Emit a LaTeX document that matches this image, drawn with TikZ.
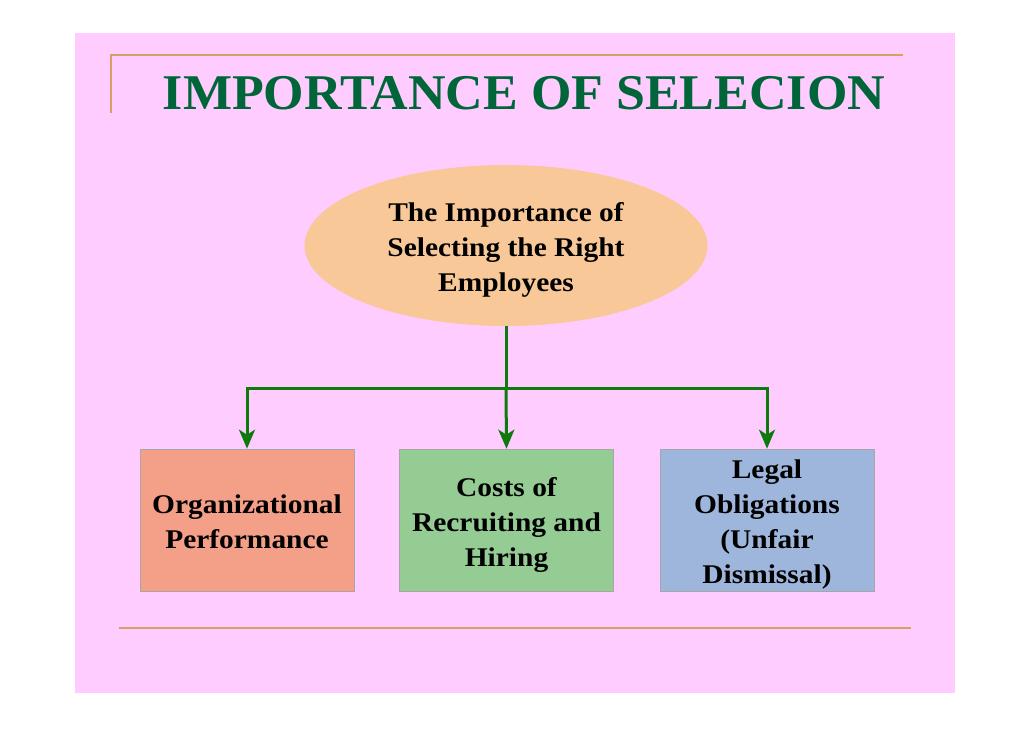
\documentclass[tikz,border=0pt]{standalone}
\usepackage{fontspec}
\setmainfont{Liberation Serif}
\newfontfamily\boxfont[FakeStretch=1.09]{Liberation Serif}
\newfontfamily\titlefont[FakeStretch=1.04]{Liberation Serif}
\usetikzlibrary{arrows.meta,shapes.geometric}
\newcommand\droptext[1]{\raisebox{-4pt}[\height][\depth]{\begin{tabular}{@{}c@{}}#1\end{tabular}}}
\definecolor{pinkbg}{HTML}{FFCCFF}
\definecolor{rule}{HTML}{D9A066}
\definecolor{titlegreen}{HTML}{00663A}
\definecolor{arrowgreen}{HTML}{0E7A0E}
\definecolor{peach}{HTML}{F8C898}
\definecolor{salmon}{HTML}{F4A088}
\definecolor{mint}{HTML}{94CC94}
\definecolor{steel}{HTML}{9EB6DC}
\tikzset{
  boxtext/.style={align=center, font=\boxfont\fontsize{27}{35}\selectfont\bfseries},
  boxnode/.style={boxtext, draw=black!35, line width=0.6pt, minimum width=214pt, minimum height=142pt, inner sep=0pt},
  conn/.style={draw=arrowgreen, line width=3pt},
  connarrow/.style={conn, -{Stealth[length=19pt,width=16pt,inset=5pt]}},
}
\begin{document}
\begin{tikzpicture}[x=1pt,y=-1pt]
\useasboundingbox (0,0) rectangle (1030,728);
\fill[white] (0,0) rectangle (1030,728);
\fill[pinkbg] (75,33) rectangle (955,693);
\draw[rule, line width=2pt] (111,113) -- (111,55) -- (903,55);
\draw[rule, line width=2.5pt] (119,628) -- (911,628);
\node[font=\titlefont\fontsize{50}{56}\selectfont\bfseries, text=titlegreen] (title) at (524,93) {IMPORTANCE OF SELECION};
\node[ellipse, boxtext, fill=peach, minimum width=403pt, minimum height=161pt, inner sep=0pt] (top) at (506,245.5) {\droptext{The Importance of\\Selecting the Right\\Employees}};
\node[boxnode, fill=salmon] (b1) at (247,520) {\droptext{Organizational\\Performance}};
\node[boxnode, fill=mint] (b2) at (506.5,520) {\droptext{Costs of\\Recruiting and\\Hiring}};
\node[boxnode, fill=steel] (b3) at (767,520) {\droptext{Legal\\Obligations\\(Unfair\\Dismissal)}};
\coordinate (j) at (506,388);
\draw[conn] (top.south) -- (j);
\draw[connarrow] (j) -- (b2.north);
\draw[connarrow] (j) -| (b1.north);
\draw[connarrow] (j) -| (b3.north);
\end{tikzpicture}
\end{document}
